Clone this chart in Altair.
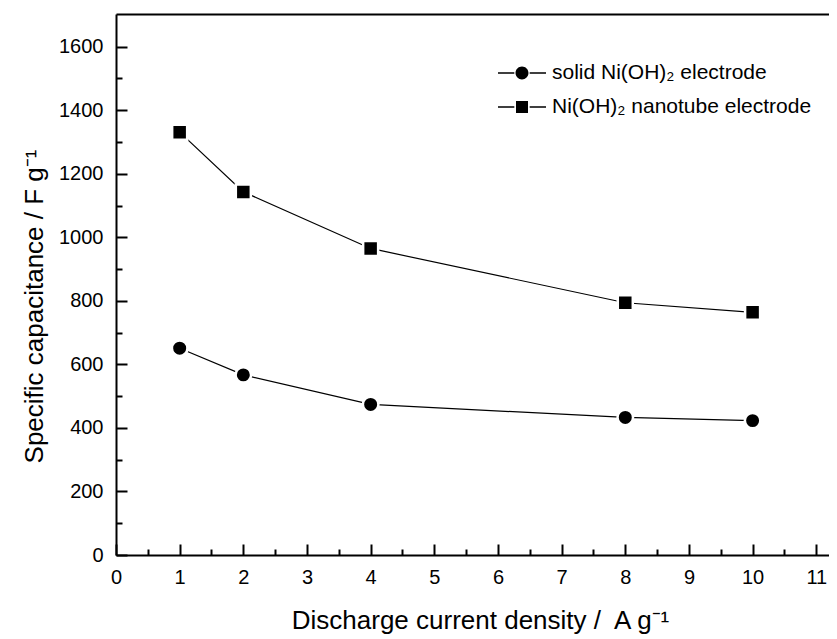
import altair as alt
import pandas as pd

# ---- data ----
current_density = [1, 2, 4, 8, 10]
solid_capacitance = [651, 567, 474, 433, 423]
nanotube_capacitance = [1331, 1143, 965, 794, 764]
series_names = ["solid Ni(OH)₂ electrode", "Ni(OH)₂ nanotube electrode"]

x_major_ticks = list(range(0, 12))
x_minor_ticks = [i + 0.5 for i in range(0, 11)]
y_major_ticks = list(range(0, 1601, 200))
y_minor_ticks = list(range(100, 1600, 200))

x_title = "Discharge current density /\u00a0 A g⁻¹"
y_title = "Specific capacitance / F g⁻¹"

rows = []
for xv, s, n in zip(current_density, solid_capacitance, nanotube_capacitance):
    rows.append({"x": xv, "cap": s, "series": series_names[0]})
    rows.append({"x": xv, "cap": n, "series": series_names[1]})
df = pd.DataFrame(rows)

FONT = "Liberation Sans"
xs = alt.Scale(domain=[0, 11.2], nice=False, zero=False)
ys = alt.Scale(domain=[0, 1703], nice=False, zero=False)

common_axis = dict(domainColor="black", domainWidth=2, tickColor="black", tickWidth=2,
                   grid=False, labelFont=FONT, labelFontSize=20, labelColor="black",
                   labelFlush=False,
                   titleFont=FONT, titleFontSize=26, titleFontWeight="normal", titleColor="black")

x_major = alt.Axis(orient="bottom", values=x_major_ticks, tickSize={"expr": "-11"},
                   labelPadding=23, title=x_title, titleX=364, titleY=73,
                   titleBaseline="alphabetic", titleAnchor="middle", format="d", **common_axis)
y_major = alt.Axis(orient="left", values=y_major_ticks, tickSize={"expr": "-11"},
                   labelPadding=24, title=y_title, titleX=-74, titleY=292, titleAngle=270,
                   titleBaseline="alphabetic", titleAnchor="middle", format="d", **common_axis)
x_minor = alt.Axis(orient="bottom", values=x_minor_ticks, tickSize={"expr": "-6"},
                   labels=False, domain=False, title=None, tickColor="black", tickWidth=2, grid=False)
y_minor = alt.Axis(orient="left", values=y_minor_ticks, tickSize={"expr": "-6"},
                   labels=False, domain=False, title=None, tickColor="black", tickWidth=2, grid=False)
x_top = alt.Axis(orient="top", ticks=False, labels=False, title=None, domain=True,
                 domainColor="black", domainWidth=2, grid=False)

base = alt.Chart(df)

lines = base.mark_line(color="black", strokeWidth=1.2).encode(
    x=alt.X("x:Q", scale=xs, axis=x_major),
    y=alt.Y("cap:Q", scale=ys, axis=y_major),
    detail="series:N",
)

circles = base.transform_filter(alt.datum.series == series_names[0]).mark_point(
    shape="circle", filled=True, fill="black", stroke="white", strokeWidth=2.5, size=240, opacity=1
).encode(
    x=alt.X("x:Q", scale=xs, axis=x_minor),
    y=alt.Y("cap:Q", scale=ys, axis=y_minor),
)

squares = base.transform_filter(alt.datum.series == series_names[1]).mark_point(
    shape="square", filled=True, fill="black", stroke="white", strokeWidth=2.5, size=225, opacity=1
).encode(
    x=alt.X("x:Q", scale=xs, axis=None),
    y=alt.Y("cap:Q", scale=ys, axis=None),
)

# legend glyphs: line - marker - line (line parts drawn as thin filled bars)
seg = ("M-1,-0.032L-0.32,-0.032L-0.32,0.032L-1,0.032Z"
       "M0.32,-0.032L1,-0.032L1,0.032L0.32,0.032Z")
circle_path = seg + "M-0.27,0A0.27,0.27,0,1,0,0.27,0A0.27,0.27,0,1,0,-0.27,0Z"
square_path = seg + "M-0.25,-0.25L0.25,-0.25L0.25,0.25L-0.25,0.25Z"

legend_layer = base.mark_point(filled=True, color="black", opacity=0).encode(
    x=alt.X("x:Q", scale=xs, axis=x_top),
    y=alt.Y("cap:Q", scale=ys, axis=None),
    shape=alt.Shape("series:N",
                    scale=alt.Scale(domain=series_names, range=[circle_path, square_path]),
                    legend=alt.Legend(orient="none", legendX=382, legendY=35, title=None,
                                      symbolSize=2304, symbolFillColor="black",
                                      symbolStrokeWidth=0, symbolOpacity=1,
                                      labelFont=FONT, labelFontSize=21,
                                      labelColor="black", labelOffset=6, labelLimit=500,
                                      rowPadding=-12)),
)

chart = alt.layer(lines, circles, squares, legend_layer).resolve_axis(
    x="independent", y="independent"
).properties(
    width=713, height=541,
    autosize=alt.AutoSizeParams(type="none"),
    padding={"left": 108, "top": 6, "right": 0, "bottom": 84},
    background="white",
).configure_view(stroke=None)

chart.save("out.html", embed_options={"renderer": "svg", "actions": False})
